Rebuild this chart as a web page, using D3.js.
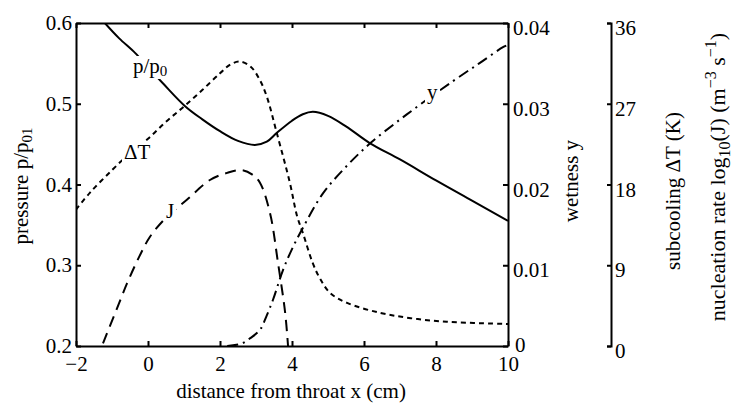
<!DOCTYPE html>
<html><head><meta charset="utf-8">
<script src="https://cdn.jsdelivr.net/npm/d3@7"></script>
<style>
body{margin:0;background:#fff;}
</style></head><body>
<svg id="c" width="732" height="403" font-family="Liberation Serif"></svg>
<script>
// ---- data ----
const xTicks = [-2, 0, 2, 4, 6, 8, 10];
const pTicks = [0.2, 0.3, 0.4, 0.5, 0.6];
const wTicks = [0, 0.01, 0.02, 0.03, 0.04];
const tTicks = [0, 9, 18, 27, 36];

const pressureX = [-1.2, -0.8, -0.36, 0, 0.42, 1.03, 1.5, 2, 2.5, 2.97, 3.3, 3.58, 4, 4.3, 4.58, 5, 5.5, 6.17, 7, 8, 9, 10];
const pressureV = [0.6, 0.581, 0.563, 0.545, 0.525, 0.497, 0.481, 0.466, 0.454, 0.449, 0.453, 0.464, 0.479, 0.487, 0.490, 0.485, 0.472, 0.451, 0.431, 0.405, 0.380, 0.355];

const subcoolX = [-2, -1.61, -1, -0.5, 0, 0.5, 1, 1.5, 2, 2.3, 2.56, 2.86, 3.1, 3.3, 3.58, 3.94, 4.14, 4.31, 4.58, 4.78, 5.06, 5.53, 6.44, 7.3, 8.3, 10];
const subcoolV = [15.2, 17.1, 19.6, 21.5, 23.1, 25, 26.7, 28.5, 30.4, 31.4, 31.7, 31.1, 29.7, 27.8, 23.7, 18.2, 14.5, 12.5, 9.2, 7.5, 5.9, 4.8, 3.7, 3.1, 2.7, 2.45];

const nucX = [-1.25, -0.9, -0.58, -0.25, 0.06, 0.5, 1.08, 1.72, 2.2, 2.61, 2.9, 3.11, 3.39, 3.61, 3.81, 3.89];
const nucV = [0.3, 3.8, 7.0, 9.9, 12.2, 14.3, 16.3, 18.5, 19.3, 19.6, 19.1, 18.2, 14.8, 9.3, 3.7, 0];

const wetX = [2.2, 2.6, 2.85, 3.11, 3.3, 3.47, 3.75, 4, 4.31, 4.86, 5.5, 6.17, 6.9, 7.56, 8.47, 9.2, 9.86, 10];
const wetV = [0, 0.0003, 0.001, 0.002, 0.0038, 0.0057, 0.0094, 0.012, 0.0147, 0.0189, 0.0222, 0.0251, 0.0277, 0.0299, 0.0328, 0.035, 0.037, 0.0373];

// ---- layout ----
const L = 76, R = 508, T = 23, B = 346, A3 = 611;
const FF = "Liberation Serif";
const svg = d3.select("#c");
const x = d3.scaleLinear().domain([-2, 10]).range([L, R]);
const yP = d3.scaleLinear().domain([0.2, 0.6]).range([B, T]);
const yW = d3.scaleLinear().domain([0, 0.04]).range([B, T]);
const yT = d3.scaleLinear().domain([0, 36]).range([B, T]);

const fs = 21;
function styleAxis(g){
  g.attr("font-family", FF).attr("font-size", fs);
  g.selectAll("path,line").attr("stroke","#000").attr("stroke-width",2);
  g.selectAll("text").attr("font-size",fs).attr("font-family",FF).attr("fill","#000");
}
function txt(sel){ return sel.append("text").attr("font-family",FF).attr("font-size",fs).attr("fill","#000"); }

svg.append("clipPath").attr("id","clip").append("rect").attr("x",L).attr("y",T).attr("width",R-L).attr("height",B-T);

// curves
const plot = svg.append("g").attr("clip-path","url(#clip)");
function curve(xs, vs, scale, dash){
  const pts = xs.map((d,i)=>[d, vs[i]]);
  plot.append("path").datum(pts)
    .attr("d", d3.line().x(d=>x(d[0])).y(d=>scale(d[1])).curve(d3.curveCatmullRom.alpha(0.5)))
    .attr("fill","none").attr("stroke","#000").attr("stroke-width",2)
    .attr("stroke-dasharray", dash);
}
curve(subcoolX, subcoolV, yT, "5,4");
curve(nucX, nucV, yT, "11,7");
curve(wetX, wetV, yW, "11,5,2,5");
curve(pressureX, pressureV, yP, null);

// in-plot labels with white backing
function label(px, py, build){
  const g = svg.append("g");
  const bg = g.append("rect").attr("fill","#fff");
  const t = txt(g).attr("x",px).attr("y",py);
  build(t);
  const bb = t.node().getBBox();
  bg.attr("x",bb.x-2).attr("y",bb.y+2).attr("width",bb.width+4).attr("height",bb.height-2);
}
label(133, 73, t=>{ t.append("tspan").text("p/p"); t.append("tspan").attr("font-size",15).attr("dy",3).text("0"); });
label(124, 159, t=>t.text("ΔT"));
label(166, 218, t=>t.text("J"));
label(427, 99, t=>t.text("y"));

// axes
svg.append("g").attr("transform",`translate(0,${B})`)
  .call(d3.axisBottom(x).tickValues(xTicks).tickSize(-5).tickSizeOuter(0).tickPadding(10).tickFormat(d3.format("d")))
  .call(styleAxis);
svg.append("g").attr("transform",`translate(0,${T})`)
  .call(d3.axisTop(x).tickValues(xTicks).tickSize(-5).tickSizeOuter(0).tickFormat(""))
  .call(styleAxis);
svg.append("g").attr("transform",`translate(${L},0)`)
  .call(d3.axisLeft(yP).tickValues(pTicks).tickSize(-5).tickSizeOuter(0).tickPadding(4).tickFormat(d3.format(".1f")))
  .call(styleAxis);
const gW = svg.append("g").attr("transform",`translate(${R},0)`)
  .call(d3.axisRight(yW).tickValues(wTicks).tickSize(-5).tickSizeOuter(0).tickPadding(5).tickFormat(d=>d===0?"0":d3.format(".2f")(d)))
  .call(styleAxis);
gW.selectAll("text").attr("dy","0.55em");
gW.selectAll(".tick").filter(d=>d===0).select("text").attr("dy","0.25em").attr("x",7);
const gT = svg.append("g").attr("transform",`translate(${A3},0)`)
  .call(d3.axisRight(yT).tickValues(tTicks).tickSize(-4).tickSizeOuter(-4).tickPadding(4).tickFormat(d3.format("d")))
  .call(styleAxis);
gT.selectAll("text").attr("dy","0.55em");

// axis titles
txt(svg).attr("x",291).attr("y",398).attr("text-anchor","middle").text("distance from throat x (cm)");
const tl = txt(svg).attr("transform","translate(28,186) rotate(-90)").attr("text-anchor","middle");
tl.append("tspan").text("pressure p/p");
tl.append("tspan").attr("font-size",15).attr("dy",4).text("01");
txt(svg).attr("transform","translate(578,181) rotate(-90)").attr("text-anchor","middle").text("wetness y");
txt(svg).attr("transform","translate(680,191) rotate(-90)").attr("text-anchor","middle").text("subcooling ΔT (K)");
const tn = txt(svg).attr("transform","translate(725,177) rotate(-90)").attr("text-anchor","middle").attr("font-size",22);
tn.append("tspan").text("nucleation rate log");
tn.append("tspan").attr("font-size",16).attr("dy",5).text("10");
tn.append("tspan").attr("dy",-5).text("(J)  (m");
tn.append("tspan").attr("font-size",16).attr("dy",-9).text("−3");
tn.append("tspan").attr("dy",9).text(" s");
tn.append("tspan").attr("font-size",16).attr("dy",-9).text("−1");
tn.append("tspan").attr("dy",9).text(")");
</script>
</body></html>
